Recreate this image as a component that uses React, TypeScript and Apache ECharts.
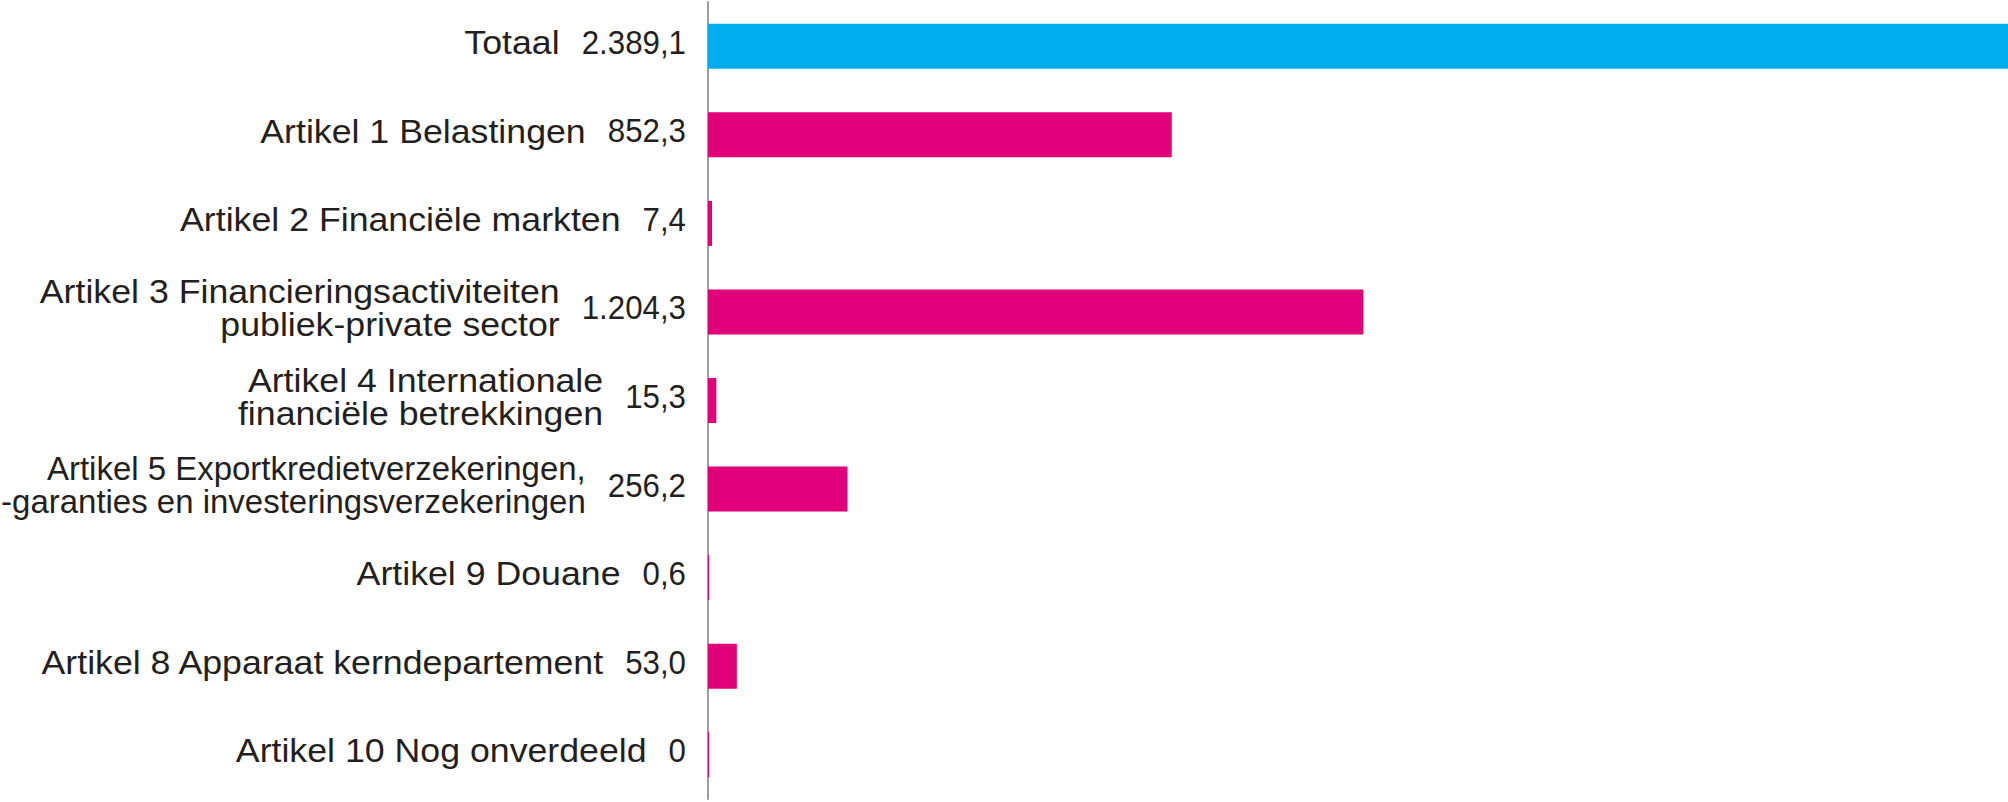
import React, { useEffect, useRef } from "react";
import * as echarts from "echarts";

const categories: string[] = [
  "Totaal",
  "Artikel 1 Belastingen",
  "Artikel 2 Financiële markten",
  "Artikel 3 Financieringsactiviteiten\npubliek-private sector",
  "Artikel 4 Internationale\nfinanciële betrekkingen",
  "Artikel 5 Exportkredietverzekeringen,\n-garanties en investeringsverzekeringen",
  "Artikel 9 Douane",
  "Artikel 8 Apparaat kerndepartement",
  "Artikel 10 Nog onverdeeld",
];

const values: number[] = [2389.1, 852.3, 7.4, 1204.3, 15.3, 256.2, 0.6, 53.0, 0];

const BLUE = "#00AEEF";
const PINK = "#E2007A";
const TEXT = "#231F20";
const FONT_FAMILY = '"Liberation Sans", Arial, sans-serif';
const FS = 34;
const LH = 33;
const NAME_SCALE = 1.05;
const VALUE_SCALE = 0.92;
const GAP = 22;
const VALUE_RIGHT = 22; // distance from axis to value right edge
const TEXT_SHIFT = -4.5;
const LEFT_PAD = 1;

function fmt(v: number): string {
  if (v === 0) return "0";
  const [ip, dp] = v.toFixed(1).split(".");
  const withDots = ip.replace(/\B(?=(\d{3})+(?!\d))/g, ".");
  return `${withDots},${dp}`;
}

export default function App() {
  const ref = useRef<HTMLDivElement>(null);
  useEffect(() => {
    if (!ref.current) return;
    const chart = echarts.init(ref.current, undefined, { renderer: "svg" });
    const canvas = document.createElement("canvas");
    const ctx = canvas.getContext("2d")!;
    ctx.font = `${FS}px ${FONT_FAMILY}`;
    const labels = values.map(fmt);
    const valueWidths = labels.map((l) => ctx.measureText(l).width * VALUE_SCALE);
    const nameWidths = categories.map((c) =>
      Math.max(...c.split("\n").map((line) => ctx.measureText(line).width))
    );

    const textStyle = (text: string) => ({
      text,
      x: 0,
      y: 0,
      align: "right",
      verticalAlign: "middle",
      fontFamily: FONT_FAMILY,
      fontSize: FS,
      lineHeight: LH,
      fill: TEXT,
    });

    chart.setOption({
      animation: false,
      grid: { left: 708, right: 0, top: 2, bottom: 3, outerBoundsMode: "none" },
      xAxis: { type: "value", min: 0, max: 2389.1, show: false },
      yAxis: {
        type: "category",
        inverse: true,
        data: categories,
        axisTick: { show: false },
        axisLine: { show: true, lineStyle: { color: "#9D9D9C", width: 2 } },
        splitLine: { show: false },
        axisLabel: { show: false },
      },
      series: [
        {
          type: "bar",
          barWidth: 45,
          barMinHeight: 1,
          data: values.map((v, i) => ({
            value: v,
            itemStyle: { color: i === 0 ? BLUE : PINK },
          })),
        },
        {
          type: "custom",
          silent: true,
          clip: false,
          encode: { x: 0, y: 1 },
          data: categories.map((_, i) => [0, i]),
          renderItem: (params: any, api: any) => {
            const idx = params.dataIndex;
            const pt = api.coord([0, idx]);
            const vx = pt[0] - VALUE_RIGHT;
            const y = pt[1] + TEXT_SHIFT;
            const nx = vx - valueWidths[idx] - GAP;
            const nameScale = Math.min(NAME_SCALE, (nx - LEFT_PAD) / nameWidths[idx]);
            return {
              type: "group",
              children: [
                {
                  type: "text",
                  x: vx,
                  y,
                  scaleX: VALUE_SCALE,
                  style: textStyle(labels[idx]),
                },
                {
                  type: "text",
                  x: nx,
                  y,
                  scaleX: nameScale,
                  style: textStyle(categories[idx]),
                },
              ],
            };
          },
        },
      ],
    });
    return () => chart.dispose();
  }, []);
  return (
    <div
      ref={ref}
      style={{ position: "fixed", left: 0, top: 0, width: 2008, height: 802, background: "#fff" }}
    />
  );
}
